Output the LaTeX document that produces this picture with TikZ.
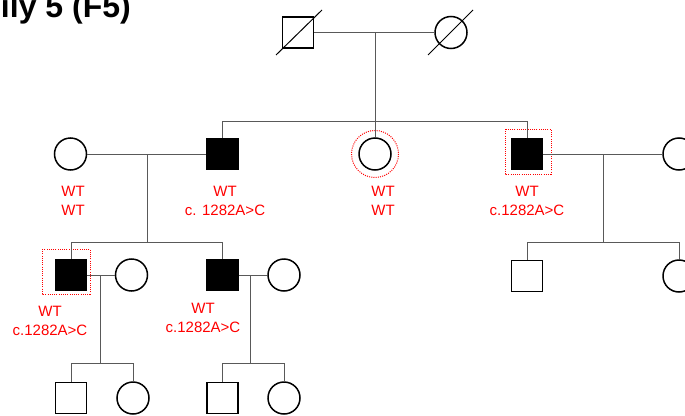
\documentclass[tikz,border=0pt]{standalone}
\usepackage{fontspec}
\setmainfont{Liberation Sans}
\usetikzlibrary{calc}
\definecolor{lineGray}{gray}{0.35}
\begin{document}
\begin{tikzpicture}[
  x=1pt, y=-1pt,
  male/.style={draw, line width=1.5pt, rectangle, minimum size=31pt, inner sep=0pt},
  female/.style={draw, line width=1.5pt, circle, minimum size=32pt, inner sep=0pt},
  affected/.style={fill=black},
  link/.style={draw=lineGray, line width=1pt},
  probe/.style={draw=red, line width=1pt, dash pattern=on 1pt off 1.2pt},
  geno/.style={text=red, align=center, font=\fontsize{15}{19}\selectfont, inner sep=0pt}
]
\useasboundingbox (0,0) rectangle (685,415);

% title, cut at the left and top edge
\node[anchor=base east, inner sep=0pt, font=\bfseries\fontsize{32}{32}\selectfont] (title) at (131,17) {Family 5 (F5)};

% generation I
\node[male] (gf) at (298,32.5) {};
\node[female] (gm) at (451,32.5) {};
\draw[line width=1pt] ($(gf.center)+(-22,22.5)$) -- ($(gf.center)+(24,-22.5)$);
\draw[line width=1pt] ($(gm.center)+(-23,22.5)$) -- ($(gm.center)+(22,-22.5)$);
\draw[link] (gf) -- (gm);
\coordinate (m1) at (375,32.5);
\coordinate (s1) at (375,121);

% generation II
\node[female] (ii1) at (70.5,154) {};
\node[male, affected] (ii2) at (222.5,154) {};
\node[female] (ii3) at (375,154) {};
\node[male, affected] (ii4) at (527,154) {};
\node[female] (ii5) at (679,154) {};
\draw[probe] (ii3.center) circle (23.5);
\draw[probe] (505,129) rectangle (551,174);

\draw[link] (m1) -- (s1);
\draw[link] (ii2.north) -- (ii2.north |- s1) -- (ii4.north |- s1) -- (ii4.north);
\draw[link] (s1) -- (ii3.north);

\node[geno] (g1) at (73,201) {WT\\WT};
\node[geno] (g2) at (225,201) {WT\\c. 1282A>C};
\node[geno] (g3) at (383,201) {WT\\WT};
\node[geno] (g4) at (527,201) {WT\\c.1282A>C};

% generation III
\draw[link] (ii1) -- (ii2);
\draw[link] (ii4) -- (ii5);
\coordinate (m2) at (147,154);
\coordinate (s2) at (147,242);
\coordinate (m3) at (603,154);
\coordinate (s3) at (603,242);

\node[male, affected] (iii1) at (71,275) {};
\node[female] (iii2) at (131.5,275) {};
\node[male, affected] (iii3) at (222.5,275) {};
\node[female] (iii4) at (284,275) {};
\node[male] (iii5) at (527,276) {};
\node[female] (iii6) at (679,276) {};
\draw[probe] (42,249) rectangle (90,294);

\draw[link] (m2) -- (s2);
\draw[link] (iii1.north) -- (iii1.north |- s2) -- (iii3.north |- s2) -- (iii3.north);
\draw[link] (m3) -- (s3);
\draw[link] (iii5.north) -- (iii5.north |- s3) -- (iii6.north |- s3) -- (iii6.north);

\node[geno] (g5) at (50,321) {WT\\c.1282A>C};
\node[geno] (g6) at (203,317.5) {WT\\c.1282A>C};

% generation IV
\draw[link] (iii1) -- (iii2);
\draw[link] (iii3) -- (iii4);
\coordinate (m4) at (100,275);
\coordinate (s4) at (100,363);
\coordinate (m5) at (250,275);
\coordinate (s5) at (250,363);

\node[male] (iv1) at (71,398) {};
\node[female] (iv2) at (133,398) {};
\node[male] (iv3) at (222.5,398) {};
\node[female] (iv4) at (284,398) {};

\draw[link] (m4) -- (s4);
\draw[link] (iv1.north) -- (iv1.north |- s4) -- (iv2.north |- s4) -- (iv2.north);
\draw[link] (m5) -- (s5);
\draw[link] (iv3.north) -- (iv3.north |- s5) -- (iv4.north |- s5) -- (iv4.north);
\end{tikzpicture}
\end{document}
